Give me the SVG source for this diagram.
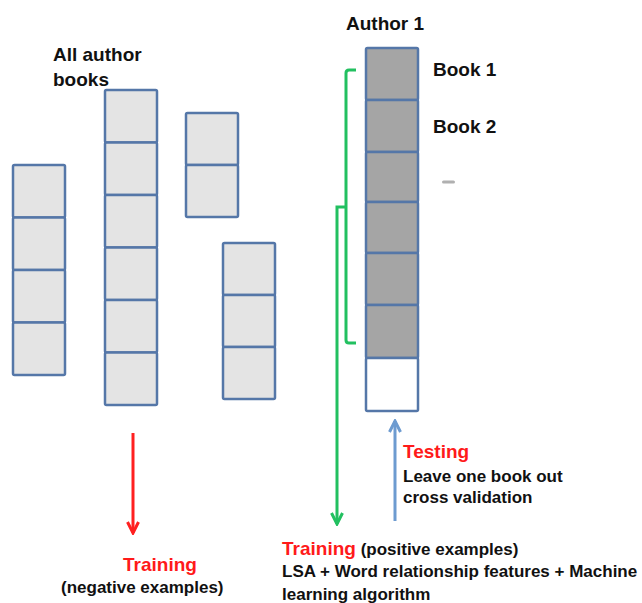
<svg xmlns="http://www.w3.org/2000/svg" width="642" height="603" viewBox="0 0 642 603">
<defs>
<style>
.cell{fill:#e4e4e4;stroke:#5577a8;stroke-width:2.5}
.dark{fill:#a5a5a5;stroke:#5577a8;stroke-width:2.5}
.white{fill:#ffffff;stroke:#5577a8;stroke-width:2.5}
.t{font-family:"Liberation Sans",Arial,sans-serif;font-weight:bold;fill:#111}
.big{font-size:19px}
.sm{font-size:17px}
.red{fill:#ff1a1a}
</style>
<marker id="ar" viewBox="0 0 14 14" refX="12" refY="7" markerWidth="14" markerHeight="14" markerUnits="userSpaceOnUse" orient="auto">
<path d="M1,1.5 L12,7 L1,12.5" fill="none" stroke="#ff2020" stroke-width="3"/>
</marker>
<marker id="ag" viewBox="0 0 14 14" refX="12" refY="7" markerWidth="14" markerHeight="14" markerUnits="userSpaceOnUse" orient="auto">
<path d="M1,1.5 L12,7 L1,12.5" fill="none" stroke="#22c060" stroke-width="3"/>
</marker>
<marker id="ab" viewBox="0 0 14 14" refX="12" refY="7" markerWidth="14" markerHeight="14" markerUnits="userSpaceOnUse" orient="auto">
<path d="M1,1.5 L12,7 L1,12.5" fill="none" stroke="#6d9bd0" stroke-width="3"/>
</marker>
</defs>
<rect width="642" height="603" fill="#ffffff"/>

<g id="stack1">
<rect class="cell" x="13" y="165" width="52" height="52.5" rx="1.5"/>
<rect class="cell" x="13" y="217.5" width="52" height="52.5" rx="1.5"/>
<rect class="cell" x="13" y="270" width="52" height="52.5" rx="1.5"/>
<rect class="cell" x="13" y="322.5" width="52" height="52.5" rx="1.5"/>
</g>
<g id="stack2">
<rect class="cell" x="105" y="90" width="52" height="52.5" rx="1.5"/>
<rect class="cell" x="105" y="142.5" width="52" height="52.5" rx="1.5"/>
<rect class="cell" x="105" y="195" width="52" height="52.5" rx="1.5"/>
<rect class="cell" x="105" y="247.5" width="52" height="52.5" rx="1.5"/>
<rect class="cell" x="105" y="300" width="52" height="52.5" rx="1.5"/>
<rect class="cell" x="105" y="352.5" width="52" height="52.5" rx="1.5"/>
</g>
<g id="stack3">
<rect class="cell" x="186" y="113" width="52" height="52" rx="1.5"/>
<rect class="cell" x="186" y="165" width="52" height="52" rx="1.5"/>
</g>
<g id="stack4">
<rect class="cell" x="223" y="243" width="52" height="52" rx="1.5"/>
<rect class="cell" x="223" y="295" width="52" height="52" rx="1.5"/>
<rect class="cell" x="223" y="347" width="52" height="52" rx="1.5"/>
</g>
<g id="label-all">
<text class="t big" x="53" y="61">All author</text>
<text class="t big" x="53" y="86">books</text>
</g>

<g id="author1">
<text class="t big" x="346" y="30">Author 1</text>
<rect class="dark" x="366" y="48" width="52" height="52" rx="1.5"/>
<rect class="dark" x="366" y="100" width="52" height="52" rx="1.5"/>
<rect class="dark" x="366" y="152" width="52" height="50" rx="1.5"/>
<rect class="dark" x="366" y="202" width="52" height="51" rx="1.5"/>
<rect class="dark" x="366" y="253" width="52" height="52" rx="1.5"/>
<rect class="dark" x="366" y="305" width="52" height="53" rx="1.5"/>
<rect class="white" x="366" y="358" width="52" height="53" rx="1.5"/>
<text class="t big" x="433" y="76">Book 1</text>
<text class="t big" x="433" y="133">Book 2</text>
<rect x="442" y="180.5" width="13" height="3" rx="1.5" fill="#b0b0b0"/>
</g>

<g id="connectors" fill="none" stroke-width="3">
<path d="M133,433 V533" stroke="#ff2020" marker-end="url(#ar)"/>
<path d="M356,70 H349 Q346,70 346,73 V340 Q346,343 349,343 H356" stroke="#22c060"/>
<path d="M346,207 H337 V524" stroke="#22c060" marker-end="url(#ag)"/>
<path d="M395,521 V421" stroke="#6d9bd0" marker-end="url(#ab)"/>
</g>

<g id="label-neg">
<text class="t big red" x="123" y="571">Training</text>
<text class="t sm" x="61" y="593">(negative examples)</text>
</g>
<g id="label-pos">
<text class="t sm" x="282" y="555"><tspan class="big red">Training</tspan> (positive examples)</text>
<text class="t sm" x="282" y="577">LSA + Word relationship features + Machine</text>
<text class="t sm" x="282" y="600">learning algorithm</text>
</g>
<g id="label-test">
<text class="t big red" x="403" y="458">Testing</text>
<text class="t sm" x="403" y="482">Leave one book out</text>
<text class="t sm" x="403" y="503">cross validation</text>
</g>
</svg>
